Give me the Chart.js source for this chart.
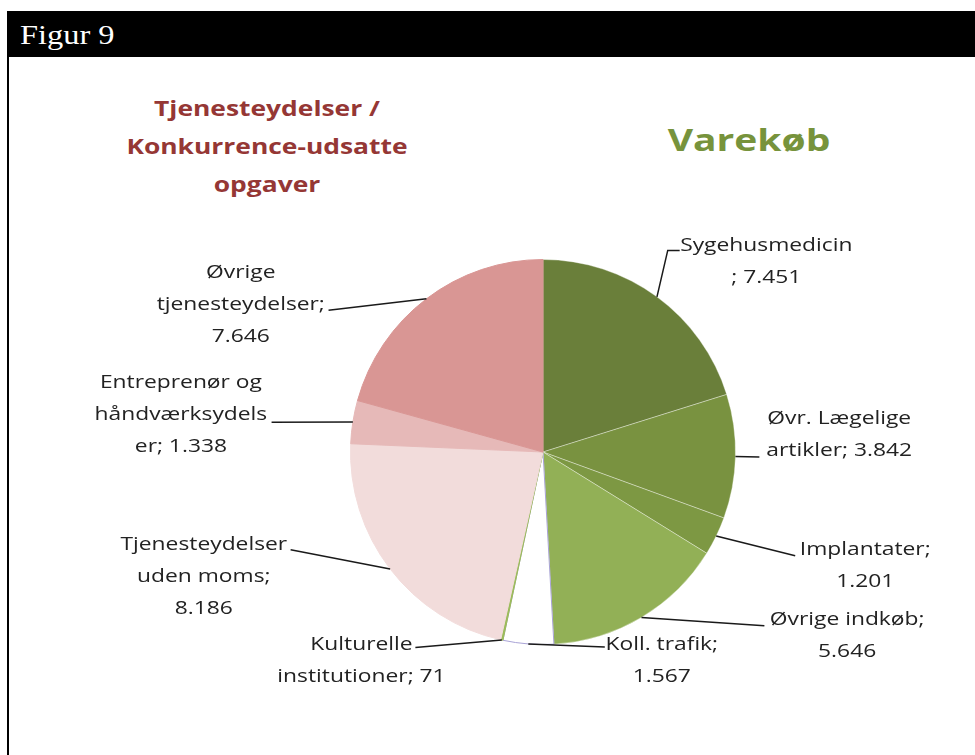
<!DOCTYPE html>
<html>
<head>
<meta charset="utf-8">
<script src="https://cdn.jsdelivr.net/npm/chart.js@4/dist/chart.umd.min.js"></script>
<style>
  html, body { margin: 0; padding: 0; background: #fff; width: 975px; height: 755px; overflow: hidden; }
  #bar { position: absolute; left: 7px; top: 11px; width: 968px; height: 46px; background: #000; }
  #bar span { position: absolute; left: 13px; top: 0; line-height: 48px; font-family: "Liberation Serif", "DejaVu Serif", serif; font-size: 27px; color: #fff; transform: scaleX(1.2); transform-origin: left center; white-space: nowrap; }
  #lborder { position: absolute; left: 7px; top: 11px; width: 2px; height: 744px; background: #000; }
  .title { position: absolute; text-align: center; font-family: "Open Sans", sans-serif; font-weight: bold; white-space: nowrap; }
  #t1 { left: 67px; width: 400px; top: 88px; font-size: 22px; line-height: 38px; color: #953735; transform: scaleX(1.2); }
  #t2 { left: 549px; width: 400px; top: 118px; font-size: 30px; line-height: 44px; color: #77933c; transform: scaleX(1.3); }
  canvas { position: absolute; left: 0; top: 0; }
</style>
</head>
<body>
<div id="bar"><span>Figur 9</span></div>
<div id="lborder"></div>
<div class="title" id="t1">Tjenesteydelser /<br>Konkurrence-udsatte<br>opgaver</div>
<div class="title" id="t2">Varekøb</div>
<canvas id="c" width="975" height="755"></canvas>
<script>
// ---- data ----
const categories = ['Sygehusmedicin', 'Øvr. Lægelige artikler', 'Implantater', 'Øvrige indkøb', 'Koll. trafik',
  'Kulturelle institutioner', 'Tjenesteydelser uden moms', 'Entreprenør og håndværksydelser', 'Øvrige tjenesteydelser'];
const values = [7451, 3842, 1201, 5646, 1567, 71, 8186, 1338, 7646];
const labelLines = [
  ['Sygehusmedicin', '; 7.451'],
  ['Øvr. Lægelige', 'artikler; 3.842'],
  ['Implantater;', '1.201'],
  ['Øvrige indkøb;', '5.646'],
  ['Koll. trafik;', '1.567'],
  ['Kulturelle', 'institutioner; 71'],
  ['Tjenesteydelser', 'uden moms;', '8.186'],
  ['Entreprenør og', 'håndværksydels', 'er; 1.338'],
  ['Øvrige', 'tjenesteydelser;', '7.646']
];
const colors = ['#6a7f3a', '#799240', '#7d9843', '#92b056', '#ffffff', '#9bbb59', '#f2dcdb', '#e6b9b8', '#d99694'];
const borders = ['rgba(255,255,255,0.35)', 'rgba(255,255,255,0.35)', 'rgba(255,255,255,0.35)', 'rgba(255,255,255,0.35)',
  '#a9a3d6', '#9bbb59', '#f2dcdb', '#e6b9b8', '#d99694'];

// label placement, in units of the pie radius relative to the pie centre
const labelPos = [
  { tx: 1.16,  ty: -1.073, leader: [[0.648, -1.047], [0.71, -1.047]] },
  { tx: 1.539, ty: -0.176, leader: [[1.124, 0.026]] },
  { tx: 1.674, ty: 0.508,  leader: [[1.31, 0.539]] },
  { tx: 1.58,  ty: 0.87,   leader: [[1.15, 0.902]] },
  { tx: 0.617, ty: 1.0,    leader: [[0.321, 1.013]] },
  { tx: -0.943, ty: 1.0,   leader: [[-0.663, 1.016]] },
  { tx: -1.762, ty: 0.482, leader: [[-1.311, 0.508]] },
  { tx: -1.881, ty: -0.358, leader: [[-1.41, -0.155]] },
  { tx: -1.57, ty: -0.933, leader: [[-1.114, -0.736]] }
];

const labelPlugin = {
  id: 'pieLabels',
  afterDraw(chart) {
    const ctx = chart.ctx;
    const meta = chart.getDatasetMeta(0);
    ctx.save();
    meta.data.forEach((arc, i) => {
      const p = arc.getProps(['x', 'y', 'startAngle', 'endAngle', 'outerRadius'], true);
      const R = p.outerRadius;
      const mid = (p.startAngle + p.endAngle) / 2;
      const L = labelPos[i];
      ctx.strokeStyle = '#1a1a1a';
      ctx.lineWidth = 1.5;
      ctx.beginPath();
      ctx.moveTo(p.x + Math.cos(mid) * R, p.y + Math.sin(mid) * R);
      L.leader.forEach(([ux, uy]) => ctx.lineTo(p.x + ux * R, p.y + uy * R));
      ctx.stroke();
      ctx.fillStyle = '#222';
      ctx.font = '19px "Open Sans", sans-serif';
      ctx.textAlign = 'center';
      ctx.textBaseline = 'middle';
      labelLines[i].forEach((t, k) => {
        ctx.save();
        ctx.translate(p.x + L.tx * R, p.y + L.ty * R + k * 32);
        ctx.scale(1.2, 1);
        ctx.fillText(t, 0, 0);
        ctx.restore();
      });
    });
    ctx.restore();
  }
};

new Chart(document.getElementById('c'), {
  type: 'pie',
  data: {
    labels: categories,
    datasets: [{ data: values, backgroundColor: colors, borderColor: borders, borderWidth: 1 }]
  },
  options: {
    responsive: false,
    animation: false,
    layout: { padding: { left: 350, right: 239, top: 259, bottom: 110 } },
    plugins: { legend: { display: false }, tooltip: { enabled: false } }
  },
  plugins: [labelPlugin]
});
</script>
</body>
</html>
